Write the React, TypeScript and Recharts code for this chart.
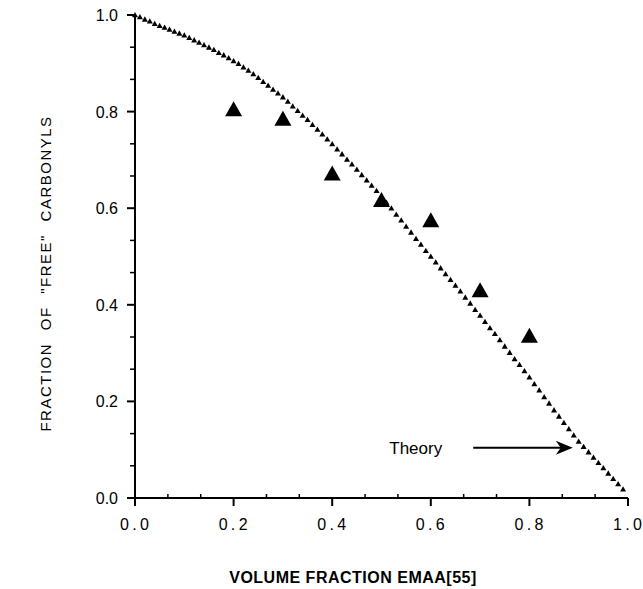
import React from 'react';
import { ComposedChart, Scatter, XAxis, YAxis, ReferenceLine } from 'recharts';

const expX = [0.2, 0.3, 0.4, 0.5, 0.6, 0.7, 0.8];
const expY = [0.805, 0.785, 0.672, 0.617, 0.575, 0.43, 0.336];

const theoryX = [
  0.0, 0.01, 0.02, 0.03, 0.04, 0.05, 0.06, 0.07, 0.08, 0.09,
  0.1, 0.11, 0.12, 0.13, 0.14, 0.15, 0.16, 0.17, 0.18, 0.19,
  0.2, 0.21, 0.22, 0.23, 0.24, 0.25, 0.26, 0.27, 0.28, 0.29,
  0.3, 0.31, 0.32, 0.33, 0.34, 0.35, 0.36, 0.37, 0.38, 0.39,
  0.4, 0.41, 0.42, 0.43, 0.44, 0.45, 0.46, 0.47, 0.48, 0.49,
  0.5, 0.51, 0.52, 0.53, 0.54, 0.55, 0.56, 0.57, 0.58, 0.59,
  0.6, 0.61, 0.62, 0.63, 0.64, 0.65, 0.66, 0.67, 0.68, 0.69,
  0.7, 0.71, 0.72, 0.73, 0.74, 0.75, 0.76, 0.77, 0.78, 0.79,
  0.8, 0.81, 0.82, 0.83, 0.84, 0.85, 0.86, 0.87, 0.88, 0.89,
  0.9, 0.91, 0.92, 0.93, 0.94, 0.95, 0.96, 0.97, 0.98, 0.99,
];
const theoryY = [
  1.0, 0.996, 0.991, 0.987, 0.982, 0.978, 0.974, 0.97, 0.966, 0.962,
  0.958, 0.953, 0.948, 0.943, 0.938, 0.933, 0.928, 0.922, 0.917, 0.911,
  0.905, 0.899, 0.892, 0.885, 0.878, 0.87, 0.862, 0.854, 0.846, 0.838,
  0.83, 0.821, 0.811, 0.802, 0.792, 0.783, 0.773, 0.763, 0.753, 0.743,
  0.733, 0.722, 0.712, 0.701, 0.691, 0.68, 0.669, 0.658, 0.647, 0.636,
  0.625, 0.612, 0.6, 0.587, 0.575, 0.562, 0.55, 0.537, 0.525, 0.512,
  0.5, 0.488, 0.476, 0.464, 0.452, 0.44, 0.428, 0.415, 0.403, 0.39,
  0.378, 0.365, 0.352, 0.34, 0.327, 0.314, 0.301, 0.288, 0.276, 0.263,
  0.25, 0.236, 0.223, 0.209, 0.196, 0.182, 0.169, 0.156, 0.143, 0.13,
  0.117, 0.106, 0.095, 0.084, 0.073, 0.062, 0.051, 0.04, 0.029, 0.018,
];

const axisTicks = [0, 0.0667, 0.1333, 0.2, 0.2667, 0.3333, 0.4, 0.4667, 0.5333, 0.6, 0.6667, 0.7333, 0.8, 0.8667, 0.9333, 1.0];

const xTitle = 'VOLUME FRACTION EMAA[55]';
const yTitle = 'FRACTION OF "FREE" CARBONYLS';
const arrowLabel = 'Theory';
const arrowY = 0.104;
const arrowStartX = 0.686;
const arrowEndX = 0.888;

const expData = expX.map((x, i) => ({ x, y: expY[i] }));
const theoryData = theoryX.map((x, i) => ({ x, y: theoryY[i] }));

const FONT = '"Liberation Sans", Arial, Helvetica, sans-serif';

const isMajor = (v: number) => Math.abs(v * 5 - Math.round(v * 5)) < 0.001;

const XTick = (props: any) => {
  const { x, y, payload } = props;
  const v = payload.value;
  if (isMajor(v)) {
    const chars = v.toFixed(1).split('');
    return (
      <g>
        <line x1={x} y1={y} x2={x} y2={y + 8} stroke="#000" strokeWidth={2} />
        <text x={x - 0.5} y={y + 32} textAnchor="middle" fontFamily={FONT} fontSize={16} fill="#000">
          {chars.map((c: string, i: number) => (
            <tspan key={i} dx={i ? 3.3 : 0}>{c}</tspan>
          ))}
        </text>
      </g>
    );
  }
  return <line x1={x} y1={y} x2={x} y2={y - 4} stroke="#000" strokeWidth={1.5} />;
};

const YTick = (props: any) => {
  const { x, y, payload } = props;
  const v = payload.value;
  if (isMajor(v)) {
    return (
      <g>
        <line x1={x - 8} y1={y} x2={x} y2={y} stroke="#000" strokeWidth={2} />
        <text x={x - 17} y={y + 6} textAnchor="end" fontFamily={FONT} fontSize={16} fill="#000">
          {v.toFixed(1)}
        </text>
      </g>
    );
  }
  return <line x1={x - 5} y1={y} x2={x} y2={y} stroke="#000" strokeWidth={1.5} />;
};

const BigTriangle = (props: any) => {
  const { cx, cy } = props;
  if (cx == null || cy == null) return null;
  return <polygon points={`${cx},${cy - 8} ${cx + 8.5},${cy + 7} ${cx - 8.5},${cy + 7}`} fill="#000" />;
};

const SmallTriangle = (props: any) => {
  const { cx, cy } = props;
  if (cx == null || cy == null) return null;
  return <polygon points={`${cx},${cy - 3} ${cx + 3},${cy + 2.3} ${cx - 3},${cy + 2.3}`} fill="#000" />;
};

const ArrowShape = (props: any) => {
  const { x1, y1, x2, y2 } = props;
  if (x1 == null) return null;
  return (
    <g>
      <line x1={x1} y1={y1} x2={x2 - 10} y2={y2} stroke="#000" strokeWidth={1.8} />
      <polygon points={`${x2},${y2} ${x2 - 17},${y2 - 7} ${x2 - 12},${y2} ${x2 - 17},${y2 + 7}`} fill="#000" />
      <text x={x1 - 31} y={y1 + 6} textAnchor="end" fontFamily={FONT} fontSize={17} fill="#000">
        {arrowLabel}
      </text>
    </g>
  );
};

const XTitle = (props: any) => {
  const vb = props.viewBox || { x: 135, y: 498, width: 493, height: 91 };
  return (
    <text x={vb.x + 218} y={vb.y + 85} textAnchor="middle" fontFamily={FONT} fontSize={16} fontWeight="bold" letterSpacing={0.5} fill="#000">
      {xTitle}
    </text>
  );
};

const YTitle = (props: any) => {
  const vb = props.viewBox || { x: 0, y: 15, width: 135, height: 483 };
  const cx = vb.x + 45;
  const cy = vb.y + vb.height / 2 + 17;
  return (
    <text
      x={cx}
      y={cy}
      transform={`rotate(-90, ${cx}, ${cy})`}
      textAnchor="middle"
      dominantBaseline="central"
      fontFamily={FONT}
      fontSize={15}
      letterSpacing={1.5}
      wordSpacing={7}
      fill="#000"
    >
      {yTitle}
    </text>
  );
};

export default function App() {
  return (
    <div style={{ position: 'absolute', left: 0, top: 0, background: '#fff' }}>
      <ComposedChart width={643} height={589} margin={{ top: 15, right: 15, left: 0, bottom: 0 }}>
        <XAxis
          xAxisId="b"
          dataKey="x"
          type="number"
          domain={[0, 1]}
          ticks={axisTicks}
          interval={0}
          height={91}
          tickSize={0}
          tickMargin={0}
          tickLine={false}
          tick={<XTick />}
          axisLine={{ stroke: '#000', strokeWidth: 2 }}
          label={(p: any) => <XTitle {...p} />}
        />
        <XAxis
          xAxisId="t"
          orientation="top"
          type="number"
          domain={[0, 1]}
          height={0}
          tick={false}
          tickLine={false}
          axisLine={{ stroke: '#000', strokeWidth: 2 }}
        />
        <YAxis
          yAxisId="l"
          dataKey="y"
          type="number"
          domain={[0, 1]}
          ticks={axisTicks}
          interval={0}
          width={135}
          tickSize={0}
          tickMargin={0}
          tickLine={false}
          tick={<YTick />}
          axisLine={{ stroke: '#000', strokeWidth: 2 }}
          label={(p: any) => <YTitle {...p} />}
        />
        <YAxis
          yAxisId="r"
          orientation="right"
          type="number"
          domain={[0, 1]}
          width={0}
          tick={false}
          tickLine={false}
          axisLine={{ stroke: '#000', strokeWidth: 2 }}
        />
        <Scatter
          xAxisId="b"
          yAxisId="l"
          data={theoryData}
          dataKey="y"
          shape={<SmallTriangle />}
          isAnimationActive={false}
        />
        <Scatter
          xAxisId="b"
          yAxisId="l"
          data={expData}
          dataKey="y"
          shape={<BigTriangle />}
          isAnimationActive={false}
        />
        <ReferenceLine
          xAxisId="b"
          yAxisId="l"
          segment={[{ x: arrowStartX, y: arrowY }, { x: arrowEndX, y: arrowY }]}
          shape={(p: any) => <ArrowShape {...p} />}
          ifOverflow="visible"
        />
      </ComposedChart>
    </div>
  );
}
